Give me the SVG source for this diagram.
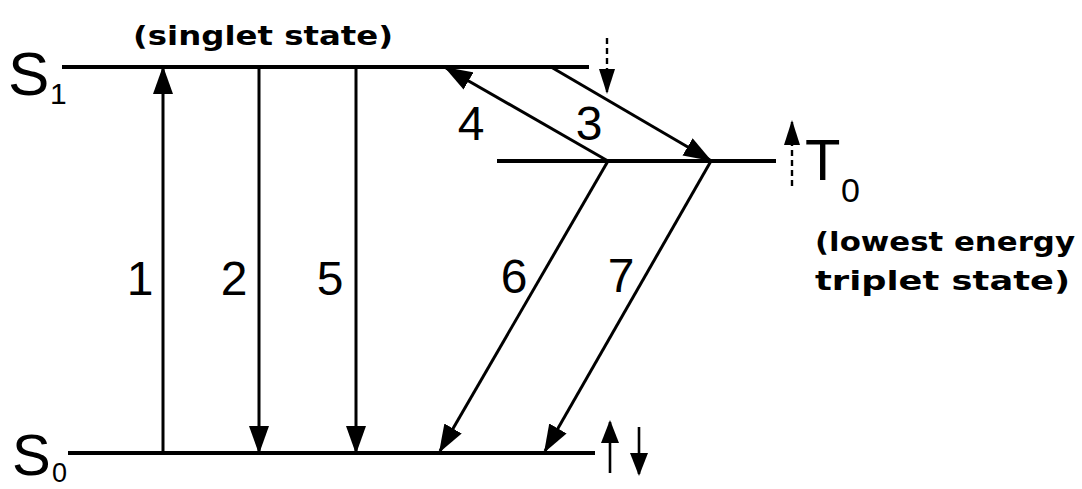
<svg xmlns="http://www.w3.org/2000/svg" width="1082" height="489" viewBox="0 0 1082 489">
<style>
.lvl{stroke:#000;stroke-width:4;fill:none}
.arr{stroke:#000;stroke-width:3;fill:none;marker-end:url(#head)}
.dash{stroke:#000;stroke-width:2.4;fill:none;stroke-dasharray:6 4;marker-end:url(#dhead)}
.spin{stroke:#000;stroke-width:2.6;fill:none;marker-end:url(#shead)}
.big{font-family:"Liberation Sans",Arial,sans-serif;fill:#000}
.num{font-family:"Liberation Sans",Arial,sans-serif;font-size:48px;fill:#000;text-anchor:middle}
.note{font-family:"DejaVu Sans","Liberation Sans",sans-serif;font-size:26px;font-weight:bold;fill:#000}
</style>
<defs>
<marker id="head" markerUnits="userSpaceOnUse" markerWidth="30" markerHeight="20" refX="26" refY="10" orient="auto">
<path d="M0,0 L28,10 L0,20 z" fill="#000"/>
</marker>
<marker id="dhead" markerUnits="userSpaceOnUse" markerWidth="26" markerHeight="16" refX="23" refY="8" orient="auto">
<path d="M0,0 L25,8 L0,16 z" fill="#000"/>
</marker>
<marker id="shead" markerUnits="userSpaceOnUse" markerWidth="24" markerHeight="18" refX="21" refY="9" orient="auto">
<path d="M0,0 L23,9 L0,18 z" fill="#000"/>
</marker>
</defs>
<rect width="1082" height="489" fill="#fff"/>

<g id="S1">
<line class="lvl" x1="62" y1="67" x2="589" y2="67"/>
<text class="big" x="8" y="95" font-size="62">S</text>
<text class="big" x="50" y="104" font-size="30">1</text>
<text class="note" x="133" y="45" textLength="260" lengthAdjust="spacingAndGlyphs">(singlet state)</text>
<line class="dash" x1="607" y1="38" x2="607" y2="92"/>
</g>

<g id="T0">
<line class="lvl" x1="497" y1="161" x2="776" y2="161"/>
<text class="big" x="805" y="180" font-size="58">T</text>
<text class="big" x="841" y="202" font-size="34">0</text>
<line class="dash" x1="792" y1="186" x2="792" y2="122"/>
<text class="note" x="815" y="251" textLength="260" lengthAdjust="spacingAndGlyphs">(lowest energy</text>
<text class="note" x="815" y="290" textLength="255" lengthAdjust="spacingAndGlyphs">triplet state)</text>
</g>

<g id="S0">
<line class="lvl" x1="68" y1="453" x2="595" y2="453"/>
<text class="big" x="12" y="475" font-size="58">S</text>
<text class="big" x="52" y="482" font-size="27">0</text>
<line class="spin" x1="610" y1="473" x2="610" y2="422"/>
<line class="spin" x1="639" y1="427" x2="639" y2="474"/>
</g>

<g id="connectors">
<line class="arr" x1="163" y1="453" x2="163" y2="68"/>
<line class="arr" x1="259" y1="67" x2="259" y2="452"/>
<line class="arr" x1="356" y1="67" x2="356" y2="452"/>
<line class="arr" x1="608" y1="161" x2="446" y2="68"/>
<line class="arr" x1="551" y1="67" x2="710" y2="160"/>
<line class="arr" x1="608" y1="161" x2="440" y2="451"/>
<line class="arr" x1="711" y1="161" x2="545" y2="451"/>
</g>

<g id="labels">
<text class="num" x="140" y="295">1</text>
<text class="num" x="234" y="295">2</text>
<text class="num" x="330" y="295">5</text>
<text class="num" x="514" y="293">6</text>
<text class="num" x="621" y="292">7</text>
<text class="num" x="471" y="140">4</text>
<text class="num" x="589" y="140">3</text>
</g>
</svg>
